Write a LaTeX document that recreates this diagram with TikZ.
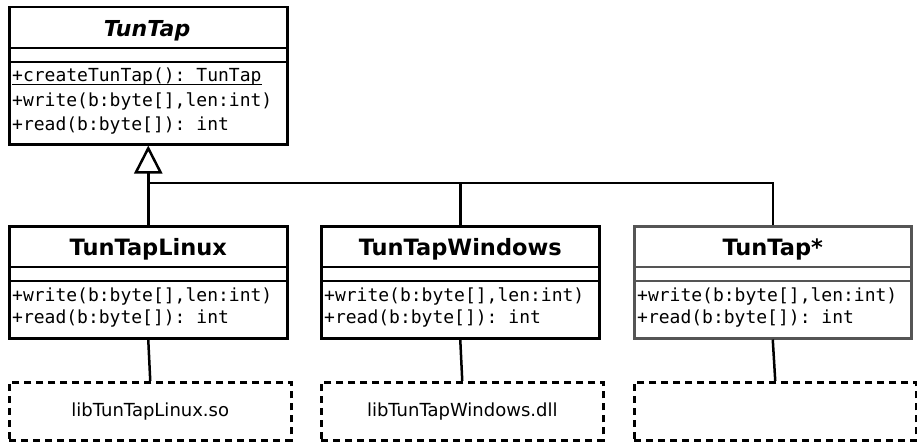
\documentclass[tikz,border=0pt]{standalone}
\usepackage{fontspec}
\setmainfont{DejaVu Sans}
\newfontfamily\monof{DejaVu Sans Mono}
\usetikzlibrary{arrows.meta}
\definecolor{boxgray}{RGB}{85,85,85}
\tikzset{
  classbox/.style={draw, line width=2.5pt, fill=white, inner sep=0, anchor=north west, minimum width=#1, minimum height=112},
  connline/.style={draw, line width=2.5pt},
  libbox/.style={draw, dash pattern=on 7pt off 5pt, line width=2.5pt, inner sep=0, anchor=north west, minimum height=58, font=\fontsize{18}{22}\selectfont},
  titletext/.style={font=\fontsize{22.5}{26}\selectfont\bfseries, inner sep=0},
  meth/.style={font=\fontsize{18}{22}\selectfont\monof, anchor=west, inner sep=0},
}
\begin{document}
\begin{tikzpicture}[x=1pt,y=1pt]
\useasboundingbox (0,0) rectangle (917,-444);
% top abstract class
\node[classbox=278, minimum height=137] (tuntap) at (8,-6) {};
\draw[connline] (tuntap.west |- 0,-48) -- (tuntap.east |- 0,-48);
\draw[connline] (tuntap.west |- 0,-62) -- (tuntap.east |- 0,-62);
\node[titletext, font=\fontsize{22}{26}\selectfont\bfseries\itshape] (tt) at (147,-31) {TunTap};
\node[meth] (m1) at (12,-77) {+createTunTap():~TunTap};
\draw[line width=1.2pt] ([yshift=-2.2pt]m1.base west) -- ([yshift=-2.2pt]m1.base east);
\node[meth] (m2) at (12,-101) {+write(b:byte[],len:int)};
\node[meth] (m3) at (12,-126) {+read(b:byte[]):~int};

% middle classes
\node[classbox=278] (linux) at (8,-225) {};
\node[classbox=278] (win) at (320,-225) {};
\node[classbox=277, draw=boxgray] (star) at (633,-225) {};
\foreach \b/\t/\xx/\c in {linux/TunTapLinux/12/black, win/TunTapWindows/324/black, star/TunTap*/637/boxgray}{
  \draw[connline, draw=\c] (\b.west |- 0,-267) -- (\b.east |- 0,-267);
  \draw[connline, draw=\c] (\b.west |- 0,-281) -- (\b.east |- 0,-281);
  \node[titletext] (\b-t) at (\b.north |- 0,-249) {\t};
  \node[meth] (\b-w) at (\xx,-296) {+write(b:byte[],len:int)};
  \node[meth] (\b-r) at (\xx,-319) {+read(b:byte[]):~int};
}

% lib boxes
\node[libbox, minimum width=282] (liblinux) at (8,-381) {libTunTapLinux.so};
\node[libbox, minimum width=282] (libwin) at (320,-381) {libTunTapWindows.dll};
\node[libbox, minimum width=282] (libstar) at (633,-381) {};

% inheritance
\coordinate (j) at (tuntap.south |- 0,-183);
\draw[connline, -{Triangle[open, length=28pt, width=28pt, line width=2.5pt]}] (linux.north) -- (tuntap.south);
\draw[connline] (win.north) |- (j);
\draw[connline] (star.north) |- (j);

% realisation links
\draw[connline] (linux.south) -- (liblinux.north);
\draw[connline] (win.south) -- (libwin.north);
\draw[connline] (star.south) -- (libstar.north);
\end{tikzpicture}
\end{document}
